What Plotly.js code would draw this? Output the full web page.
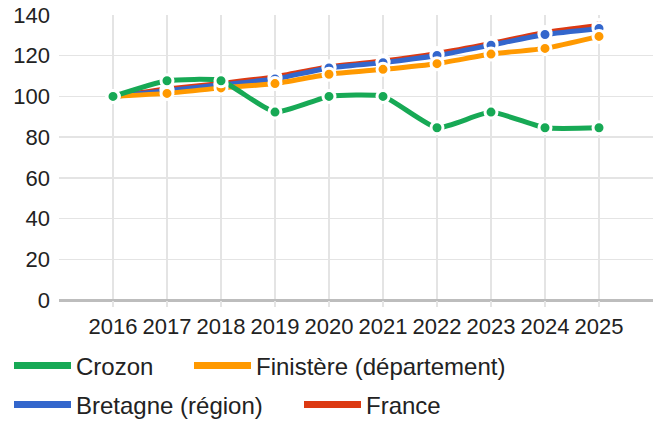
<!DOCTYPE html>
<html>
<head>
<meta charset="utf-8">
<script src="https://cdn.plot.ly/plotly-3.0.1.min.js"></script>
<style>html,body{margin:0;padding:0;background:#fff;}#chart{width:662px;height:424px;}</style>
</head>
<body>
<div id="chart"></div>
<script>
const years = [2016, 2017, 2018, 2019, 2020, 2021, 2022, 2023, 2024, 2025];
const seriesNames = ["Crozon", "Finistère (département)", "Bretagne (région)", "France"];
const crozon = [100, 107.7, 107.7, 92.3, 100, 100, 84.6, 92.3, 84.6, 84.6];
const finistere = [100, 101.5, 104.2, 106.3, 110.9, 113.3, 116.1, 120.8, 123.6, 129.5];
const bretagne = [100, 102.8, 105.7, 108.6, 114.0, 116.6, 120.1, 125.2, 130.4, 133.4];
const france = [100, 103.6, 106.4, 109.6, 114.6, 117.4, 121.1, 126.0, 131.4, 134.8];
const colors = ["#17a955", "#ff9900", "#3366cc", "#dc3912"];
const values = [crozon, finistere, bretagne, france];

const font = "Liberation Sans, Arial, Helvetica, sans-serif";
const legendIds = ["legend", "legend2", "legend3", "legend4"];
const traces = [];
// legend-only entries (thicker swatches)
for (let i = 0; i < 4; i++) {
  traces.push({
    x: [null], y: [null], name: seriesNames[i], type: "scatter", mode: "lines",
    line: {color: colors[i], width: 7}, legend: legendIds[i], showlegend: true, hoverinfo: "skip"
  });
}
// lines: draw France first (bottom), Crozon last (top)
for (let i = 3; i >= 0; i--) {
  traces.push({
    x: years, y: values[i], name: seriesNames[i], type: "scatter", mode: "lines",
    line: {color: colors[i], width: 5, shape: "spline", smoothing: 0.5},
    showlegend: false, hoverinfo: "skip"
  });
}
for (let i = 3; i >= 0; i--) {
  traces.push({
    x: years, y: values[i], name: seriesNames[i], type: "scatter", mode: "markers",
    marker: {color: colors[i], size: 12, line: {color: "#ffffff", width: 3}},
    showlegend: false
  });
}
const legendBase = {
  xref: "container", yref: "container", xanchor: "left", yanchor: "middle",
  orientation: "h", bgcolor: "rgba(0,0,0,0)", borderwidth: 0,
  font: {family: font, size: 24, color: "#222"}, itemwidth: 57, itemclick: false
};
const layout = {
  width: 662, height: 424,
  margin: {l: 59, r: 9, t: 15, b: 124, pad: 0},
  paper_bgcolor: "#fff", plot_bgcolor: "#fff",
  font: {family: font, size: 22, color: "#222"},
  xaxis: {
    range: [2015, 2026], tickmode: "array", tickvals: years, ticktext: years.map(String),
    showgrid: true, gridcolor: "#e4e4e4", gridwidth: 1.3,
    ticks: "outside", ticklen: 6, tickcolor: "#e4e4e4", tickwidth: 1.3,
    zeroline: false, showline: false, fixedrange: true,
    tickfont: {family: font, size: 22, color: "#222"}, ticklabelstandoff: 1
  },
  yaxis: {
    range: [0, 140], dtick: 20, tick0: 0,
    showgrid: true, gridcolor: "#e4e4e4", gridwidth: 1.3,
    zeroline: true, zerolinecolor: "#bdbdbd", zerolinewidth: 3,
    showline: false, ticks: "", fixedrange: true,
    tickfont: {family: font, size: 22, color: "#222"}, ticklabelstandoff: 8
  },
  legend: Object.assign({}, legendBase, {x: 9 / 662, y: 1 - 366 / 424}),
  legend2: Object.assign({}, legendBase, {x: 189 / 662, y: 1 - 366 / 424}),
  legend3: Object.assign({}, legendBase, {x: 9 / 662, y: 1 - 405 / 424}),
  legend4: Object.assign({}, legendBase, {x: 299 / 662, y: 1 - 405 / 424}),
  showlegend: true
};
Plotly.newPlot("chart", traces, layout, {displayModeBar: false, staticPlot: true});
</script>
</body>
</html>
